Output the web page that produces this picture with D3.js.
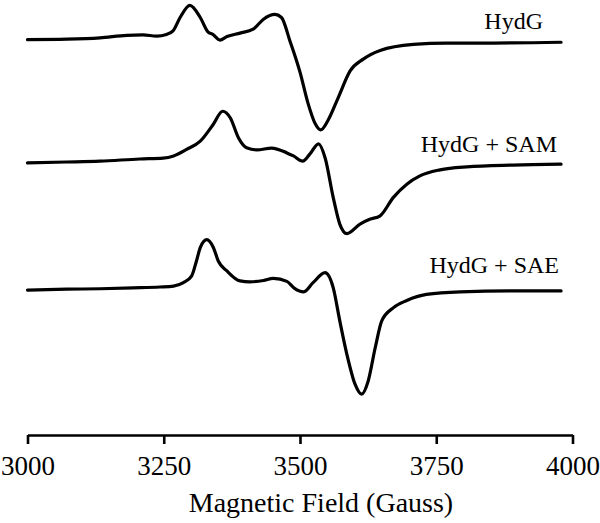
<!DOCTYPE html>
<html>
<head>
<meta charset="utf-8">
<script src="https://cdn.jsdelivr.net/npm/d3@7"></script>
<style>
  html, body { margin: 0; padding: 0; background: #fff; }
  svg { display: block; }
</style>
</head>
<body>
<svg id="chart" width="600" height="523"></svg>
<script>
// ---- Data (magnetic field in Gauss, intensity in arbitrary units incl. stacking offset) ----
const seriesNames = ["HydG", "HydG + SAM", "HydG + SAE"];

const fieldHydG = [3000,3072,3133,3182,3212,3237,3255,3267,3280,3298,3317,3331,3340,3353,3366,3390,3414,3433,3454,3466,3482,3500,3515,3528,3538,3551,3570,3592,3616,3647,3708,3769,3830,3979];
const intensityHydG = [91.1,91.2,91.5,92.1,92.2,91.9,92.3,93.1,96.2,99.0,96.2,92.9,92.3,91.0,91.8,92.6,93.5,95.8,96.9,96.2,90.6,83.6,76.3,71.7,70.3,72.4,77.7,83.9,86.6,88.6,90.0,90.3,90.3,90.5];

const fieldSAM = [3000,3072,3133,3206,3249,3268,3292,3317,3341,3358,3372,3387,3402,3421,3448,3476,3488,3505,3518,3534,3546,3561,3573,3586,3610,3628,3647,3671,3696,3720,3757,3806,3891,3979];
const intensitySAM = [62.7,62.9,63.1,63.6,63.8,64.3,65.8,67.7,71.6,74.6,73.1,68.5,66.2,65.7,66.1,65.0,64.3,63.1,64.7,67.1,63.9,54.7,48.6,46.4,48.6,49.7,50.5,54.7,57.8,59.7,61.1,61.8,62.2,62.4];

const fieldSAE = [3000,3072,3133,3194,3243,3268,3286,3301,3310,3317,3329,3341,3350,3366,3390,3408,3433,3451,3476,3490,3507,3524,3546,3561,3573,3586,3601,3613,3625,3638,3650,3671,3696,3732,3794,3891,3979];
const intensitySAE = [33.4,33.6,33.7,33.9,34.1,34.3,35.1,36.6,40.1,43.2,45.0,43.2,40.1,37.8,35.5,35.3,35.6,36.1,35.4,33.8,33.0,35.1,37.4,33.9,26.3,18.6,11.7,9.4,12.4,20.1,26.3,29.3,31.0,32.4,33.0,33.2,33.2];

const xTicks = [3000, 3250, 3500, 3750, 4000];
const xTitle = "Magnetic Field (Gauss)";

// ---- Layout ----
const svg = d3.select("#chart");
const serif = "'Liberation Serif', 'Times New Roman', Times, serif";
const left = 27.5, right = 572.5, axisY = 435;

const x = d3.scaleLinear().domain([3000, 4000]).range([left, right]);
const y = d3.scaleLinear().domain([0, 100]).range([axisY, axisY - 434]);

const series = [
  { name: seriesNames[0], f: fieldHydG, v: intensityHydG, labelX: 543, labelY: 29 },
  { name: seriesNames[1], f: fieldSAM, v: intensitySAM, labelX: 557, labelY: 152 },
  { name: seriesNames[2], f: fieldSAE, v: intensitySAE, labelX: 559, labelY: 273 }
];

const line = d3.line()
  .x(d => x(d[0]))
  .y(d => y(d[1]))
  .curve(d3.curveMonotoneX);

series.forEach(s => {
  const pts = s.f.map((f, i) => [f, s.v[i]]);
  svg.append("path")
    .datum(pts)
    .attr("d", line)
    .attr("fill", "none")
    .attr("stroke", "#000")
    .attr("stroke-width", 3.2)
    .attr("stroke-linejoin", "round")
    .attr("stroke-linecap", "round");
  svg.append("text")
    .attr("x", s.labelX)
    .attr("y", s.labelY)
    .attr("text-anchor", "end")
    .attr("font-family", serif)
    .attr("font-size", 24)
    .attr("fill", "#000")
    .text(s.name);
});

// ---- Axis ----
const axis = d3.axisBottom(x)
  .tickValues(xTicks)
  .tickFormat(d3.format("d"))
  .tickSize(9)
  .tickSizeOuter(0)
  .tickPadding(12);

const gAxis = svg.append("g")
  .attr("transform", `translate(0,${axisY})`)
  .call(axis);
gAxis.select(".domain").attr("stroke", "#000").attr("stroke-width", 2.6);
gAxis.selectAll(".tick line").attr("stroke", "#000").attr("stroke-width", 2.6);
gAxis.selectAll(".tick text")
  .attr("font-family", serif)
  .attr("font-size", 27)
  .attr("fill", "#000");

svg.append("text")
  .attr("x", 321)
  .attr("y", 512)
  .attr("text-anchor", "middle")
  .attr("font-family", serif)
  .attr("font-size", 28)
  .attr("fill", "#000")
  .text(xTitle);
</script>
</body>
</html>
